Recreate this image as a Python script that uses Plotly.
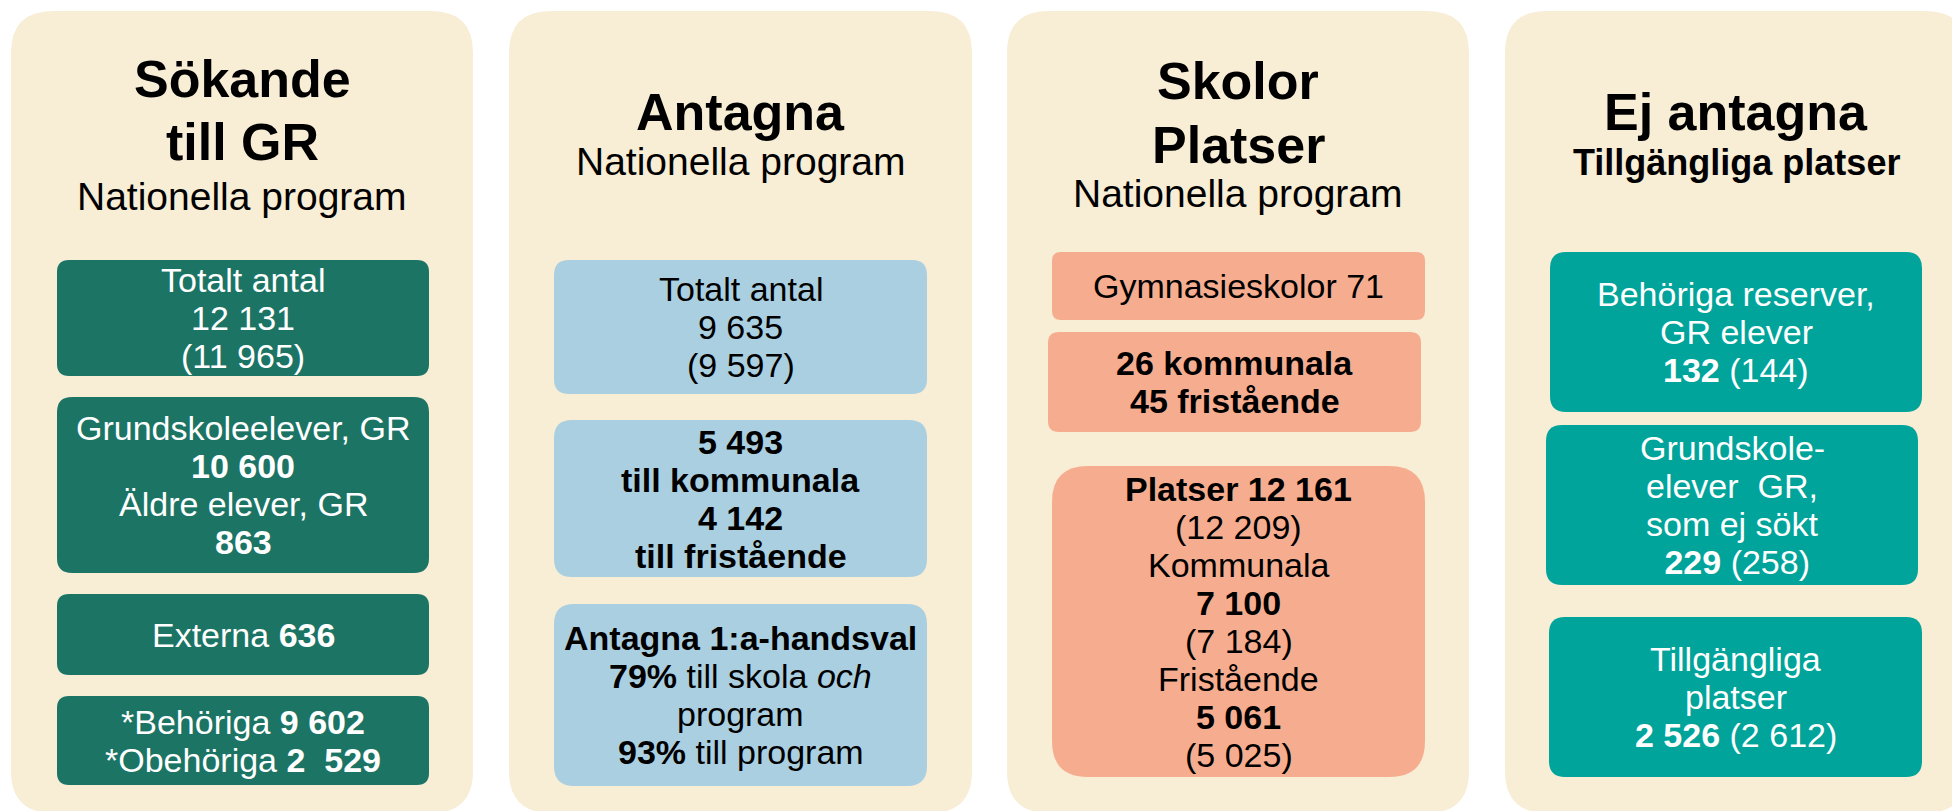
import plotly.graph_objects as go

# ---------------- data ----------------
panel_titles = [["Sökande", "till GR"], ["Antagna"], ["Skolor", "Platser"], ["Ej antagna"]]
panel_subtitles = ["Nationella program", "Nationella program", "Nationella program", "Tillgängliga platser"]

# Sökande till GR
sok_labels = ["Totalt antal", "Grundskoleelever, GR", "Äldre elever, GR", "Externa", "*Behöriga", "*Obehöriga"]
sok_values = [12131, 10600, 863, 636, 9602, 2529]
sok_prev_total = [11965]

# Antagna
ant_values = [9635, 5493, 4142]          # totalt, kommunala, fristående
ant_prev_total = [9597]
ant_first_choice_pct = [79, 93]          # skola och program, program

# Skolor / Platser
skol_counts = [71, 26, 45]               # gymnasieskolor, kommunala, fristående
platser_values = [12161, 7100, 5061]     # totalt, kommunala, fristående
platser_prev = [12209, 7184, 5025]

# Ej antagna / tillgängliga platser
ej_values = [132, 229, 2526]
ej_prev = [144, 258, 2612]


def fmt(n):
    return "{:,}".format(n).replace(",", " ")


panel1_boxes = [
    [sok_labels[0], fmt(sok_values[0]), "(" + fmt(sok_prev_total[0]) + ")"],
    [sok_labels[1], "<b>" + fmt(sok_values[1]) + "</b>", sok_labels[2], "<b>" + fmt(sok_values[2]) + "</b>"],
    [sok_labels[3] + " <b>" + fmt(sok_values[3]) + "</b>"],
    [sok_labels[4] + " <b>" + fmt(sok_values[4]) + "</b>",
     sok_labels[5] + " <b>" + fmt(sok_values[5]).replace(" ", "\u00a0 ") + "</b>"],
]
panel2_boxes = [
    ["Totalt antal", fmt(ant_values[0]), "(" + fmt(ant_prev_total[0]) + ")"],
    ["<b>" + fmt(ant_values[1]) + "</b>", "<b>till kommunala</b>", "<b>" + fmt(ant_values[2]) + "</b>", "<b>till fristående</b>"],
    ["<b>Antagna 1:a-handsval</b>", "<b>%d%%</b> till skola <i>och</i>" % ant_first_choice_pct[0], "program",
     "<b>%d%%</b> till program" % ant_first_choice_pct[1]],
]
panel3_boxes = [
    ["Gymnasieskolor %d" % skol_counts[0]],
    ["<b>%d kommunala</b>" % skol_counts[1], "<b>%d fristående</b>" % skol_counts[2]],
    ["<b>Platser " + fmt(platser_values[0]) + "</b>", "(" + fmt(platser_prev[0]) + ")",
     "Kommunala", "<b>" + fmt(platser_values[1]) + "</b>", "(" + fmt(platser_prev[1]) + ")",
     "Fristående", "<b>" + fmt(platser_values[2]) + "</b>", "(" + fmt(platser_prev[2]) + ")"],
]
panel4_boxes = [
    ["Behöriga reserver,", "GR elever", "<b>" + fmt(ej_values[0]) + "</b> (" + fmt(ej_prev[0]) + ")"],
    ["Grundskole-", "elever\u00a0 GR,", "som ej sökt", "\u00a0<b>" + fmt(ej_values[1]) + "</b> (" + fmt(ej_prev[1]) + ")"],
    ["Tillgängliga", "platser", "<b>" + fmt(ej_values[2]) + "</b> (" + fmt(ej_prev[2]) + ")"],
]
all_boxes = [panel1_boxes, panel2_boxes, panel3_boxes, panel4_boxes]

# ---------------- layout / style ----------------
W, H = 1952, 811
FONT = "Liberation Sans, Arial, sans-serif"
CREAM = "#F8EDD5"
box_colors = ["#1C7465", "#AACFE1", "#F6AD8F", "#00A49A"]
text_colors = ["white", "black", "black", "white"]

panel_x = [(11, 473), (509, 972), (1007, 1469), (1505, 1967)]
panel_top, panel_bottom, panel_r = 11, 813, 42

box_geom = [
    [(57, 260, 429, 376, 12), (57, 397, 429, 573, 15), (57, 594, 429, 675, 12), (57, 696, 429, 785, 12)],
    [(554, 260, 927, 394, 15), (554, 420, 927, 577, 18), (554, 604, 927, 786, 20)],
    [(1052, 252, 1425, 320, 9), (1048, 332, 1421, 432, 11), (1052, 466, 1425, 777, 36)],
    [(1550, 252, 1922, 412, 16), (1546, 425, 1918, 585, 16), (1549, 617, 1922, 777, 16)],
]
title_baselines = [[97, 160], [130], [99, 163], [130]]
subtitle_baselines = [210, 175, 207, 175]

TITLE_SIZE, SUB_SIZE, BODY_SIZE, LINE_STEP = 52, 39, 34, 38
MID = 0.3465  # baseline -> middle of text box (em)


def rrect(x0, y0, x1, y1, r):
    return (f"M{x0+r},{y0} L{x1-r},{y0} Q{x1},{y0} {x1},{y0+r} "
            f"L{x1},{y1-r} Q{x1},{y1} {x1-r},{y1} L{x0+r},{y1} "
            f"Q{x0},{y1} {x0},{y1-r} L{x0},{y0+r} Q{x0},{y0} {x0+r},{y0} Z")


shapes, annotations = [], []
for p, (px0, px1) in enumerate(panel_x):
    shapes.append(dict(type="path", path=rrect(px0, panel_top, px1, panel_bottom, panel_r),
                       xref="x", yref="y", fillcolor=CREAM, line=dict(width=0), layer="below"))
    cx = (px0 + px1) / 2
    for t, base in zip(panel_titles[p], title_baselines[p]):
        annotations.append(dict(x=cx, y=base - MID * TITLE_SIZE, text="<b>" + t + "</b>",
                                font=dict(family=FONT, size=TITLE_SIZE, color="black")))
    sub = panel_subtitles[p]
    if p == 3:
        annotations.append(dict(x=cx, y=subtitle_baselines[p] - MID * 36, text="<b>" + sub + "</b>",
                                font=dict(family=FONT, size=36, color="black")))
    else:
        annotations.append(dict(x=cx, y=subtitle_baselines[p] - MID * SUB_SIZE, text=sub,
                                font=dict(family=FONT, size=SUB_SIZE, color="black")))
    for lines, (x0, y0, x1, y1, r) in zip(all_boxes[p], box_geom[p]):
        shapes.append(dict(type="path", path=rrect(x0, y0, x1, y1, r), xref="x", yref="y",
                           fillcolor=box_colors[p], line=dict(width=0), layer="below"))
        bx, by = (x0 + x1) / 2, (y0 + y1) / 2
        n = len(lines)
        for i, line in enumerate(lines):
            annotations.append(dict(x=bx, y=by + LINE_STEP * (i - (n - 1) / 2), text=line,
                                    font=dict(family=FONT, size=BODY_SIZE, color=text_colors[p])))

for a in annotations:
    a.update(xref="x", yref="y", showarrow=False, xanchor="center", yanchor="middle")

fig = go.Figure()
fig.update_layout(
    width=W, height=H, margin=dict(l=0, r=0, t=0, b=0),
    paper_bgcolor="white", plot_bgcolor="white", showlegend=False,
    xaxis=dict(range=[0, W], visible=False, fixedrange=True),
    yaxis=dict(range=[H, 0], visible=False, fixedrange=True),
    shapes=shapes, annotations=annotations,
)
fig.write_html("out.html", config={"displayModeBar": False},
               post_script="document.body.style.margin='0';")
